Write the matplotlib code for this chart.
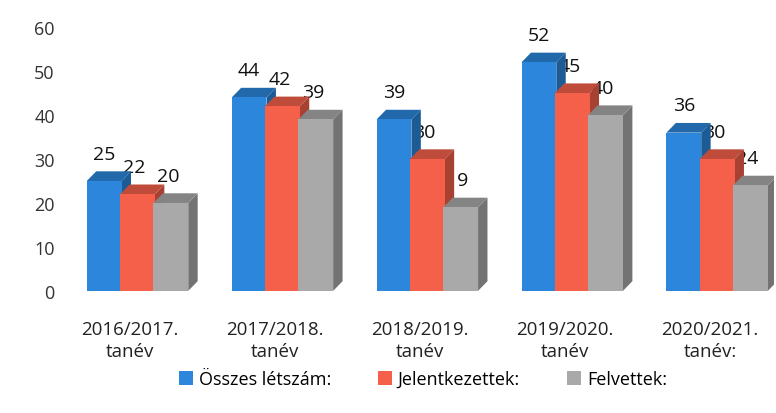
import matplotlib
matplotlib.use("Agg")
import matplotlib.pyplot as plt
from matplotlib.patches import Polygon
from matplotlib.colors import to_rgb
import numpy as np

categories = ["2016/2017.\ntanév", "2017/2018.\ntanév", "2018/2019.\ntanév",
              "2019/2020.\ntanév", "2020/2021.\ntanév:"]
series_names = ["Összes létszám:", "Jelentkezettek:", "Felvettek:"]
osszes = [25, 44, 39, 52, 36]
jelentkezett = [22, 42, 30, 45, 30]
felvett = [20, 39, 19, 40, 24]
yticks = [0, 10, 20, 30, 40, 50, 60]

colors = ["#2b86dc", "#f5604a", "#a9a9a9"]
plt.rcParams["font.family"] = ["Open Sans", "DejaVu Sans"]


def shade(c, f):
    r, g, b = to_rgb(c)
    return (r * f, g * f, b * f)


fig = plt.figure(figsize=(7.76, 4.14), dpi=100)
ax = fig.add_axes([0.11, 0.295, 0.887, 0.637])

x = np.arange(len(categories))
width = 0.24
offsets = [-0.23, 0.0, 0.23]
dx, dy = 0.065, 2.2  # pseudo 3D depth in data units

legend_handles = []
for k, (vals, col) in enumerate(zip([osszes, jelentkezett, felvett], colors)):
    xs = x + offsets[k]
    for i, (xc, v) in enumerate(zip(xs, vals)):
        left, right = xc - width / 2, xc + width / 2
        z = 3 + k
        # value label, partly hidden by bars like in the original
        lx = xc if k == 0 else xc - 0.02
        ax.text(lx, v + 4.2, str(v), ha="center", va="bottom", fontsize=14,
                color="#111111", zorder=2)
        ax.add_patch(Polygon([(right, 0), (right + dx, dy), (right + dx, v + dy), (right, v)],
                             closed=True, facecolor=shade(col, 0.68), edgecolor="none", zorder=z))
        ax.add_patch(Polygon([(left, v), (left + dx, v + dy), (right + dx, v + dy), (right, v)],
                             closed=True, facecolor=shade(col, 0.78), edgecolor="none", zorder=z))
    b = ax.bar(xs, vals, width=width, color=col, edgecolor="none", zorder=3 + k,
               label=series_names[k])
    legend_handles.append(b)

ax.set_xlim(-0.36, 4.39)
ax.set_ylim(0, 60)
ax.set_yticks(yticks)
ax.set_yticklabels([str(t) for t in yticks], fontsize=13, color="#333333")
ax.set_xticks(x - 0.05)
ax.set_xticklabels(categories, fontsize=13.5, color="#222222", linespacing=1.3)
ax.tick_params(axis="both", length=0)
ax.tick_params(axis="y", pad=22)
ax.tick_params(axis="x", pad=21)
for s in ax.spines.values():
    s.set_visible(False)

fig.legend(handles=legend_handles, labels=series_names, loc="center",
           bbox_to_anchor=(0.545, 0.082), ncol=3, frameon=False, fontsize=13,
           handlelength=0.8, handleheight=0.8, handletextpad=0.3, columnspacing=2.6)

fig.savefig("out.png", dpi=100, facecolor="white")
